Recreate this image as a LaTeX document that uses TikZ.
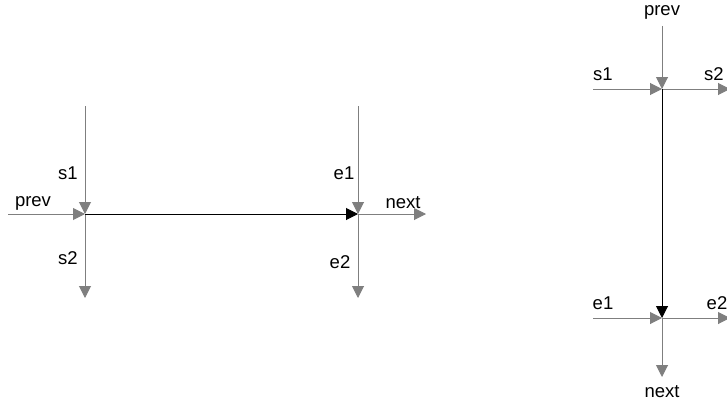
\documentclass[tikz,border=0pt]{standalone}
\usepackage{fontspec}
\setmainfont{Liberation Sans}
\usetikzlibrary{arrows.meta,positioning}
\definecolor{linkgray}{HTML}{7F7F7F}
\tikzset{
  lbl/.style  ={inner sep=0pt,font=\fontsize{18.5}{20}\selectfont},
  lnk/.style  ={draw=linkgray,line width=1pt,
                -{Triangle[length=12pt,width=12pt]},color=linkgray},
  seg/.style  ={draw=black,line width=1pt,
                -{Triangle[length=12pt,width=12pt]}},
}

\begin{document}
\begin{tikzpicture}[x=1pt,y=-1pt]
\useasboundingbox (0,0) rectangle (727,404);
% horizontal segment
\coordinate (HS) at (85,214); \coordinate (HE) at (358,214);
\coordinate (HS1) at (85,106); \coordinate (HP) at (8,214);
\coordinate (HS2) at (85,298);
\coordinate (HE1) at (358,106); \coordinate (HN) at (426,214);
\coordinate (HE2) at (358,298);
\draw[lnk] (HS1) -- (HS); \draw[lnk] (HP) -- (HS);
\draw[lnk] (HS) -- (HS2);
\draw[seg] (HS) -- (HE);
\draw[lnk] (HE1) -- (HE); \draw[lnk] (HE) -- (HN);
\draw[lnk] (HE) -- (HE2);
\node[lbl] (hs1) at (68,173) {s1};
\node[lbl] (hp) at (33,203) {prev};
\node[lbl] (hs2) at (68,258) {s2};
\node[lbl] (he1) at (344,173) {e1};
\node[lbl] (hn) at (403,203) {next};
\node[lbl] (he2) at (340,262) {e2};
% vertical segment
\coordinate (VS) at (662,89); \coordinate (VE) at (662,318);
\coordinate (VP) at (662,26); \coordinate (VS1) at (593,89);
\coordinate (VS2) at (730,89);
\coordinate (VE1) at (593,318); \coordinate (VE2) at (730,318);
\coordinate (VN) at (662,377);
\draw[lnk] (VP) -- (VS); \draw[lnk] (VS1) -- (VS);
\draw[lnk] (VS) -- (VS2);
\draw[seg] (VS) -- (VE);
\draw[lnk] (VE1) -- (VE); \draw[lnk] (VE) -- (VE2);
\draw[lnk] (VE) -- (VN);
\node[lbl] (vp) at (662,12) {prev};
\node[lbl] (vs1) at (603,74) {s1};
\node[lbl] (vs2) at (714,74) {s2};
\node[lbl] (ve1) at (603,303) {e1};
\node[lbl] (ve2) at (717,303) {e2};
\node[lbl] (vn) at (662,392) {next};
\end{tikzpicture}
\end{document}
